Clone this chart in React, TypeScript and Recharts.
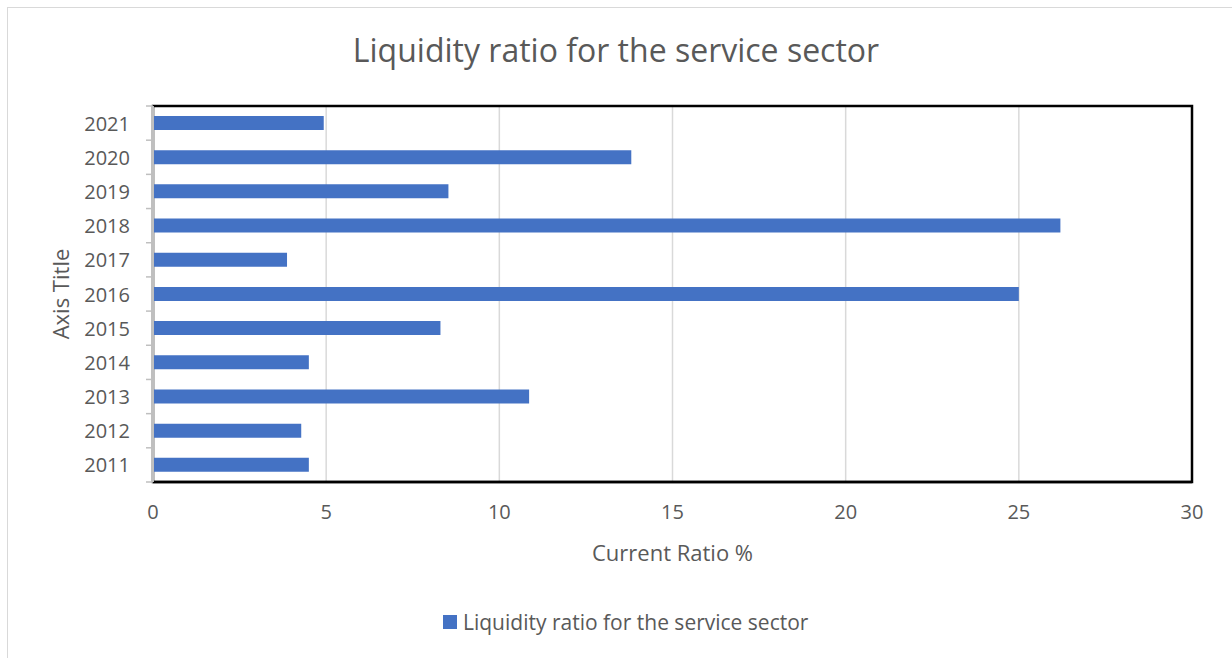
import React from 'react';
import { BarChart, Bar, XAxis, YAxis, CartesianGrid, ReferenceArea } from 'recharts';

const years = ['2011', '2012', '2013', '2014', '2015', '2016', '2017', '2018', '2019', '2020', '2021'];
const ratios = [4.5, 4.28, 10.86, 4.5, 8.3, 25.0, 3.87, 26.2, 8.53, 13.81, 4.93];
const xTicks = [0, 5, 10, 15, 20, 25, 30];
const seriesName = 'Liquidity ratio for the service sector';
const chartTitle = 'Liquidity ratio for the service sector';
const xAxisTitle = 'Current Ratio %';
const yAxisTitle = 'Axis Title';

const data = years.map((y, i) => ({ year: y, value: ratios[i] }));

const FONT = '"Open Sans", "Noto Sans", sans-serif';
const TEXT = '#595959';
const BAR = '#4472C4';
const PLOT_H = 376;
const HALF_BAND = PLOT_H / years.length / 2;

const YTick = (props: any) => {
  const { x, y, payload, index } = props;
  const ax = x + 23;
  return (
    <g>
      <text x={x} y={y} textAnchor="end" dominantBaseline="central" fill={TEXT} fontSize={20} fontFamily={FONT}>
        {payload.value}
      </text>
      <line x1={ax - 7} x2={ax} y1={y - HALF_BAND} y2={y - HALF_BAND} stroke="#bfbfbf" strokeWidth={1.5} />
      {index === 0 && (
        <line x1={ax - 7} x2={ax} y1={y + HALF_BAND} y2={y + HALF_BAND} stroke="#bfbfbf" strokeWidth={1.5} />
      )}
    </g>
  );
};

const YLabel = (props: any) => {
  const vb = props.viewBox || {};
  const cx = (vb.x ?? 53) + 7;
  const cy = (vb.y ?? 106) + (vb.height ?? PLOT_H) / 2;
  return (
    <text
      x={cx}
      y={cy}
      transform={`rotate(-90, ${cx}, ${cy})`}
      textAnchor="middle"
      dominantBaseline="central"
      fill={TEXT}
      fontSize={22}
      fontFamily={FONT}
    >
      {yAxisTitle}
    </text>
  );
};

const XLabel = (props: any) => {
  const vb = props.viewBox || {};
  const cx = (vb.x ?? 153) + (vb.width ?? 1039) / 2;
  const cy = (vb.y ?? 482) + 70;
  return (
    <text x={cx} y={cy} textAnchor="middle" dominantBaseline="central" fill={TEXT} fontSize={22} fontFamily={FONT}>
      {xAxisTitle}
    </text>
  );
};

export default function App() {
  return (
    <div style={{ position: 'absolute', left: 0, top: 0, width: 1232, height: 658, background: '#fff', fontFamily: FONT }}>
      <div
        style={{
          position: 'absolute',
          left: 7,
          top: 7,
          width: 1225,
          height: 651,
          borderTop: '1px solid #d9d9d9',
          borderLeft: '1px solid #d9d9d9',
          boxSizing: 'border-box',
        }}
      />
      <div
        style={{
          position: 'absolute',
          left: 0,
          top: 30,
          width: 1232,
          height: 40,
          lineHeight: '40px',
          textAlign: 'center',
          fontSize: 32,
          color: TEXT,
          fontFamily: FONT,
        }}
      >
        {chartTitle}
      </div>
      <div style={{ position: 'absolute', left: 0, top: 0 }}>
        <BarChart
          width={1232}
          height={658}
          data={data}
          layout="vertical"
          margin={{ top: 106, right: 40, bottom: 116, left: 53 }}
          barSize={14}
        >
          <CartesianGrid horizontal={false} vertical={true} stroke="#d9d9d9" strokeWidth={1.5} />
          <ReferenceArea x1={0} x2={30} fill="none" fillOpacity={0} stroke="#000" strokeWidth={2.5} />
          <XAxis
            type="number"
            domain={[0, 30]}
            ticks={xTicks}
            interval={0}
            height={60}
            axisLine={{ stroke: '#000', strokeWidth: 2.5 }}
            tickLine={false}
            tickSize={0}
            tickMargin={23}
            tick={{ fill: TEXT, fontSize: 20, fontFamily: FONT }}
            label={<XLabel />}
          />
          <YAxis
            type="category"
            dataKey="year"
            reversed
            width={100}
            axisLine={{ stroke: '#bfbfbf', strokeWidth: 2 }}
            tickLine={false}
            tickSize={0}
            tickMargin={23}
            interval={0}
            tick={<YTick />}
            label={<YLabel />}
          />
          <Bar dataKey="value" name={seriesName} fill={BAR} isAnimationActive={false} />
        </BarChart>
      </div>
      <div
        style={{
          position: 'absolute',
          left: 443,
          top: 607,
          height: 30,
          display: 'flex',
          alignItems: 'center',
          fontSize: 21,
          color: TEXT,
          fontFamily: FONT,
          whiteSpace: 'nowrap',
        }}
      >
        <span style={{ display: 'inline-block', width: 14, height: 14, background: BAR, marginRight: 6 }} />
        <span>{seriesName}</span>
      </div>
    </div>
  );
}
